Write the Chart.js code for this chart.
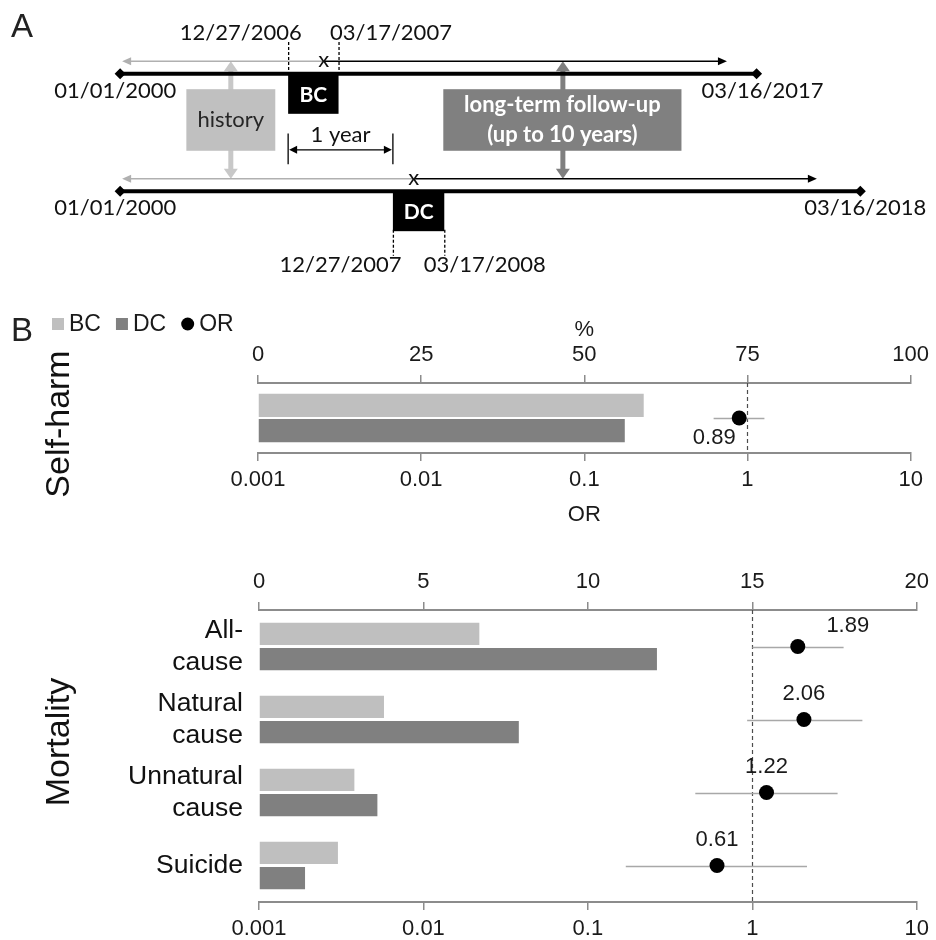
<!DOCTYPE html>
<html><head><meta charset="utf-8">
<script src="https://cdn.jsdelivr.net/npm/chart.js@4.4.1/dist/chart.umd.min.js"></script>
<style>
html,body{margin:0;padding:0;background:#fff;}
#wrap{position:relative;width:936px;height:940px;overflow:hidden;background:#fff;}
canvas{position:absolute;left:0;}
</style></head><body>
<div id="wrap">
<canvas id="cA" width="936" height="290" style="top:0px"></canvas>
<canvas id="cB1" width="936" height="250" style="top:290px"></canvas>
<canvas id="cB2" width="936" height="400" style="top:540px"></canvas>
</div>
<script>
// ================= DATA =================
// Panel A (study design)
const groups = ['BC', 'DC'];
const historyStartDates = ['01/01/2000', '01/01/2000'];
const windowStartDates = ['12/27/2006', '12/27/2007'];
const windowEndDates = ['03/17/2007', '03/17/2008'];
const followUpEndDates = ['03/16/2017', '03/16/2018'];
const connectorTexts = [['history'], ['long-term follow-up', '(up to 10 years)']];
const gapText = '1 year';

// Panel B
const seriesNames = ['BC', 'DC', 'OR'];
const pctTicks = [0, 25, 50, 75, 100];
const mortTicks = [0, 5, 10, 15, 20];
const orTicks = [0.001, 0.01, 0.1, 1, 10];

const selfHarmCategories = ['Self-harm'];
const selfHarmBC = [59.1];
const selfHarmDC = [56.2];
const selfHarmOR = [0.89];
const selfHarmORLow = [0.62];
const selfHarmORHigh = [1.27];

const mortalityCategories = [['All-', 'cause'], ['Natural', 'cause'], ['Unnatural', 'cause'], 'Suicide'];
const mortalityBC = [6.7, 3.8, 2.9, 2.4];
const mortalityDC = [12.1, 7.9, 3.6, 1.4];
const mortalityOR = [1.89, 2.06, 1.22, 0.61];
const mortalityORLow = [1.00, 0.93, 0.45, 0.17];
const mortalityORHigh = [3.59, 4.67, 3.30, 2.15];

// ================= STYLE / LAYOUT =================
const ARIAL = "'Liberation Sans', Arial, sans-serif";
const LATO = "Lato, 'Open Sans', sans-serif";
const colBC = '#bfbfbf', colDC = '#808080', colOR = '#000000';
const axisColor = '#8c8c8c';
const tickColor = '#1a1a1a';
Chart.defaults.font.family = ARIAL;

// schematic layout of panel A (diagram units on a 936 x 290 canvas)
const A = {
  rowY: [71, 193], arrowY: [58, 180],
  lineStartX: [116, 116], lineEndX: [760, 865],
  leftTipX: [118, 118], rightTipX: [730, 821], markX: [322, 413],
  winX0: [286, 392], winX1: [337, 444], boxH: 40,
  dashY: [[38, 71], [233, 260]],
  startLbl: [[238, 29], [339, 270]], endLbl: [[390, 29], [485, 270]],
  histLbl: [[111, 89], [111, 210]], fuLbl: [[766, 89], [870, 210]],
  connX: [228, 564], connBox: [[183, 273, 87, 151], [443, 684, 87, 151]],
  connFill: ['#c0c0c0', '#808080'], connArrow: ['#c8c8c8', '#7f7f7f'],
  connText: ['#262626', '#ffffff'], connBold: [false, true],
  gapY: 150, gapBar: [133, 165], gapLbl: 135
};

function arrowHead(ctx, x, y, ang, len, half, color) {
  ctx.save(); ctx.translate(x, y); ctx.rotate(ang);
  ctx.beginPath(); ctx.moveTo(0, 0); ctx.lineTo(-len, -half); ctx.lineTo(-len, half); ctx.closePath();
  ctx.fillStyle = color; ctx.fill(); ctx.restore();
}

const diagramPlugin = {
  id: 'diagram',
  beforeDatasetsDraw(chart) {
    const ctx = chart.ctx;
    const X = v => chart.scales.x.getPixelForValue(v), Y = v => chart.scales.y.getPixelForValue(v);
    ctx.save();
    // vertical double arrows (history / follow-up)
    A.connX.forEach((cx, k) => {
      const y0 = Y(A.arrowY[0]), y1 = Y(A.arrowY[1]), c = A.connArrow[k];
      ctx.strokeStyle = c; ctx.lineWidth = 5;
      ctx.beginPath(); ctx.moveTo(X(cx), y0 + 8); ctx.lineTo(X(cx), y1 - 8); ctx.stroke();
      arrowHead(ctx, X(cx), y0, -Math.PI / 2, 10, 7, c);
      arrowHead(ctx, X(cx), y1, Math.PI / 2, 10, 7, c);
    });
    // connector boxes
    A.connBox.forEach((b, k) => {
      ctx.fillStyle = A.connFill[k];
      ctx.fillRect(X(b[0]), Y(b[2]), X(b[1]) - X(b[0]), Y(b[3]) - Y(b[2]));
    });
    // thin arrows (history gray to left, follow-up black to right)
    groups.forEach((g, i) => {
      const y = Y(A.arrowY[i]);
      ctx.lineWidth = 1.5;
      ctx.strokeStyle = '#b0b0b0';
      ctx.beginPath(); ctx.moveTo(X(A.markX[i]), y); ctx.lineTo(X(A.leftTipX[i]) + 6, y); ctx.stroke();
      arrowHead(ctx, X(A.leftTipX[i]), y, Math.PI, 9, 4, '#b0b0b0');
      ctx.strokeStyle = '#000';
      ctx.beginPath(); ctx.moveTo(X(A.markX[i]), y); ctx.lineTo(X(A.rightTipX[i]) - 6, y); ctx.stroke();
      arrowHead(ctx, X(A.rightTipX[i]), y, 0, 9, 4, '#000');
    });
    // cohort boxes
    groups.forEach((g, i) => {
      const y0 = Y(A.rowY[i]);
      ctx.fillStyle = '#000';
      ctx.fillRect(X(A.winX0[i]), y0, X(A.winX1[i]) - X(A.winX0[i]), A.boxH);
      // dashed guides
      ctx.strokeStyle = '#000'; ctx.lineWidth = 1.3; ctx.setLineDash([3, 2]);
      [A.winX0[i], A.winX1[i]].forEach(xv => {
        ctx.beginPath(); ctx.moveTo(X(xv) + 0.5, Y(A.dashY[i][0])); ctx.lineTo(X(xv) + 0.5, Y(A.dashY[i][1])); ctx.stroke();
      });
      ctx.setLineDash([]);
    });
    // 1 year bracket
    const gx0 = X(A.winX0[0]), gx1 = X(A.winX0[1]), gy = Y(A.gapY);
    ctx.strokeStyle = '#000'; ctx.lineWidth = 1.3;
    ctx.beginPath();
    ctx.moveTo(gx0, Y(A.gapBar[0])); ctx.lineTo(gx0, Y(A.gapBar[1]));
    ctx.moveTo(gx1, Y(A.gapBar[0])); ctx.lineTo(gx1, Y(A.gapBar[1]));
    ctx.moveTo(gx0 + 6, gy); ctx.lineTo(gx1 - 6, gy);
    ctx.stroke();
    arrowHead(ctx, gx0 + 1, gy, Math.PI, 8, 4, '#000');
    arrowHead(ctx, gx1 - 1, gy, 0, 8, 4, '#000');
    ctx.restore();
  },
  afterDatasetsDraw(chart) {
    const ctx = chart.ctx;
    const X = v => chart.scales.x.getPixelForValue(v), Y = v => chart.scales.y.getPixelForValue(v);
    ctx.save();
    // panel letter
    ctx.fillStyle = '#222'; ctx.font = '33px ' + ARIAL; ctx.textAlign = 'left'; ctx.textBaseline = 'alphabetic';
    ctx.fillText('A', 11, 37);
    ctx.textAlign = 'center'; ctx.textBaseline = 'middle';
    // date labels
    ctx.font = '22px ' + LATO; ctx.fillStyle = '#111';
    groups.forEach((g, i) => {
      ctx.fillText(windowStartDates[i], X(A.startLbl[i][0]), Y(A.startLbl[i][1]));
      ctx.fillText(windowEndDates[i], X(A.endLbl[i][0]), Y(A.endLbl[i][1]));
      ctx.fillText(historyStartDates[i], X(A.histLbl[i][0]), Y(A.histLbl[i][1]));
      ctx.fillText(followUpEndDates[i], X(A.fuLbl[i][0]), Y(A.fuLbl[i][1]));
      ctx.fillText('x', X(A.markX[i]), Y(A.arrowY[i]) - 1);
    });
    // cohort labels
    ctx.font = 'bold 21px ' + LATO; ctx.fillStyle = '#fff';
    groups.forEach((g, i) => {
      ctx.fillText(g, (X(A.winX0[i]) + X(A.winX1[i])) / 2, Y(A.rowY[i]) + A.boxH / 2 + 1);
    });
    // connector box texts
    A.connBox.forEach((b, k) => {
      const lines = connectorTexts[k];
      ctx.font = (A.connBold[k] ? 'bold ' : '') + '22px ' + LATO; ctx.fillStyle = A.connText[k];
      const cy = (Y(b[2]) + Y(b[3])) / 2, cx = (X(b[0]) + X(b[1])) / 2;
      lines.forEach((t, j) => ctx.fillText(t, cx, cy + (j - (lines.length - 1) / 2) * 30));
    });
    // 1 year
    ctx.font = '22px ' + LATO; ctx.fillStyle = '#111';
    ctx.fillText(gapText, (X(A.winX0[0]) + X(A.winX0[1])) / 2, Y(A.gapLbl));
    ctx.restore();
  }
};

new Chart(document.getElementById('cA'), {
  type: 'scatter',
  data: {
    datasets: groups.map((g, i) => ({
      label: g + ' period',
      data: [{ x: A.lineStartX[i], y: A.rowY[i] }, { x: A.lineEndX[i], y: A.rowY[i] }],
      showLine: true, borderColor: '#000', borderWidth: 4,
      pointStyle: 'rectRot', pointRadius: 5.5, pointBackgroundColor: '#000', pointBorderWidth: 0
    }))
  },
  options: {
    responsive: false, animation: false, events: [],
    layout: { padding: 0 },
    plugins: { legend: { display: false }, tooltip: { enabled: false } },
    scales: {
      x: { type: 'linear', min: 0, max: 936, display: false },
      y: { type: 'linear', min: 0, max: 290, reverse: true, display: false }
    }
  },
  plugins: [diagramPlugin]
});

// ================= PANEL B =================
const extrasConfig = {
  cB1: { or: selfHarmOR, low: selfHarmORLow, high: selfHarmORHigh,
         labelOffsets: [[-25, 20]], sideTitle: 'Self-harm', sideY: 134, legend: true, letter: 'B' },
  cB2: { or: mortalityOR, low: mortalityORLow, high: mortalityORHigh,
         labelOffsets: [[50, -21], [0, -26], [0, -26], [0, -26]], sideTitle: 'Mortality', sideY: 202, legend: false }
};

const orExtras = {
  id: 'orExtras',
  beforeDatasetsDraw(chart) {
    const cfg = extrasConfig[chart.canvas.id]; const ctx = chart.ctx;
    const xs = chart.scales.xOR, ys = chart.scales.y, area = chart.chartArea;
    ctx.save();
    const x1 = Math.round(xs.getPixelForValue(1)) + 0.5;
    ctx.strokeStyle = '#4d4d4d'; ctx.lineWidth = 1.2; ctx.setLineDash([4, 3]);
    ctx.beginPath(); ctx.moveTo(x1, area.top); ctx.lineTo(x1, area.bottom); ctx.stroke();
    ctx.setLineDash([]);
    ctx.strokeStyle = '#a8a8a8'; ctx.lineWidth = 1.5;
    cfg.or.forEach((v, i) => {
      const y = Math.round(ys.getPixelForValue(i)) + 0.5;
      ctx.beginPath(); ctx.moveTo(xs.getPixelForValue(cfg.low[i]), y); ctx.lineTo(xs.getPixelForValue(cfg.high[i]), y); ctx.stroke();
    });
    ctx.restore();
  },
  afterDatasetsDraw(chart) {
    const cfg = extrasConfig[chart.canvas.id]; const ctx = chart.ctx;
    const xs = chart.scales.xOR, ys = chart.scales.y;
    ctx.save();
    ctx.font = '22px ' + ARIAL; ctx.fillStyle = tickColor; ctx.textAlign = 'center'; ctx.textBaseline = 'middle';
    cfg.or.forEach((v, i) => {
      const o = cfg.labelOffsets[i];
      ctx.fillText(v.toFixed(2), xs.getPixelForValue(v) + o[0], ys.getPixelForValue(i) + o[1]);
    });
    // side title
    ctx.save();
    ctx.translate(60, cfg.sideY); ctx.rotate(-Math.PI / 2);
    ctx.font = '34px ' + ARIAL; ctx.fillStyle = '#111';
    ctx.fillText(cfg.sideTitle, 0, 0);
    ctx.restore();
    if (cfg.letter) {
      ctx.font = '33px ' + ARIAL; ctx.fillStyle = '#222'; ctx.textAlign = 'left'; ctx.textBaseline = 'alphabetic';
      ctx.fillText(cfg.letter, 11, 51);
    }
    if (cfg.legend) {
      let x = 52; const cy = 34;
      ctx.font = '23px ' + ARIAL; ctx.textAlign = 'left'; ctx.textBaseline = 'middle';
      chart.data.datasets.forEach(ds => {
        ctx.fillStyle = ds.backgroundColor;
        if (ds.type === 'scatter') {
          ctx.beginPath(); ctx.arc(x + 6.5, cy, 6.5, 0, Math.PI * 2); ctx.fill(); x += 13;
        } else {
          ctx.fillRect(x, cy - 6, 12, 12); x += 12;
        }
        x += 5;
        ctx.fillStyle = tickColor;
        ctx.fillText(ds.label, x, cy + 1);
        x += ctx.measureText(ds.label).width + 15;
      });
    }
    ctx.restore();
  }
};

function hAxis(position, opts) {
  return Object.assign({
    position,
    grid: { display: true, drawOnChartArea: false, drawTicks: true, tickLength: 8, color: axisColor, lineWidth: 1.5 },
    border: { display: true, color: axisColor, width: 2 },
    ticks: { font: { size: 22 }, color: tickColor, padding: 6, maxRotation: 0, autoSkip: false }
  }, opts);
}

function buildChart(id, cats, bc, dc, or, o) {
  return new Chart(document.getElementById(id), {
    type: 'bar',
    data: {
      labels: cats,
      datasets: [
        { label: seriesNames[0], data: bc, backgroundColor: colBC, xAxisID: 'xPct', yAxisID: 'y',
          categoryPercentage: o.catPct, barPercentage: o.barPct },
        { label: seriesNames[1], data: dc, backgroundColor: colDC, xAxisID: 'xPct', yAxisID: 'y',
          categoryPercentage: o.catPct, barPercentage: o.barPct },
        { type: 'scatter', label: seriesNames[2], data: or.map((v, i) => ({ x: v, y: i })),
          backgroundColor: colOR, borderWidth: 0, pointRadius: 7.5, xAxisID: 'xOR', yAxisID: 'y' }
      ]
    },
    options: {
      indexAxis: 'y', responsive: false, animation: false, events: [],
      layout: { padding: { left: 0, right: o.padRight, top: 0, bottom: 0 } },
      plugins: { legend: { display: false }, tooltip: { enabled: false } },
      scales: {
        xPct: hAxis('top', {
          type: 'linear', min: 0, max: o.pctTicks[o.pctTicks.length - 1],
          afterBuildTicks: s => { s.ticks = o.pctTicks.map(v => ({ value: v })); },
          afterFit: s => { s.height = o.topH; },
          title: o.topTitle ? { display: true, text: o.topTitle, font: { size: 22 }, color: tickColor, padding: { top: 27, bottom: 0 } } : { display: false },
          ticks: { font: { size: 22 }, color: tickColor, padding: 7, maxRotation: 0, autoSkip: false }
        }),
        xOR: hAxis('bottom', {
          type: 'logarithmic', min: orTicks[0], max: orTicks[orTicks.length - 1],
          afterBuildTicks: s => { s.ticks = orTicks.map(v => ({ value: v })); },
          afterFit: s => { s.height = o.bottomH; },
          title: o.bottomTitle ? { display: true, text: o.bottomTitle, font: { size: 22 }, color: tickColor, padding: { top: 0, bottom: 12 } } : { display: false },
          ticks: { font: { size: 22 }, color: tickColor, padding: 6, maxRotation: 0, autoSkip: false, callback: v => String(v) }
        }),
        y: {
          type: 'category', position: 'left',
          grid: { display: false, drawTicks: false }, border: { display: false },
          afterFit: s => { s.width = o.leftW; s.paddingTop = 0; s.paddingBottom = 0; },
          ticks: { display: o.showCats, font: { size: 26.5, lineHeight: '32px' }, color: '#111', padding: 16, autoSkip: false }
        }
      }
    },
    plugins: [orExtras]
  });
}

buildChart('cB1', selfHarmCategories, selfHarmBC, selfHarmDC, selfHarmOR, {
  catPct: 0.72, barPct: 0.92, padRight: 21, pctTicks: pctTicks, topH: 93, bottomH: 87,
  topTitle: '%', bottomTitle: 'OR', leftW: 258, showCats: false
});
buildChart('cB2', mortalityCategories, mortalityBC, mortalityDC, mortalityOR, {
  catPct: 0.69, barPct: 0.88, padRight: 14, pctTicks: mortTicks, topH: 70, bottomH: 38,
  topTitle: null, bottomTitle: null, leftW: 259, showCats: true
});
</script>
</body></html>
